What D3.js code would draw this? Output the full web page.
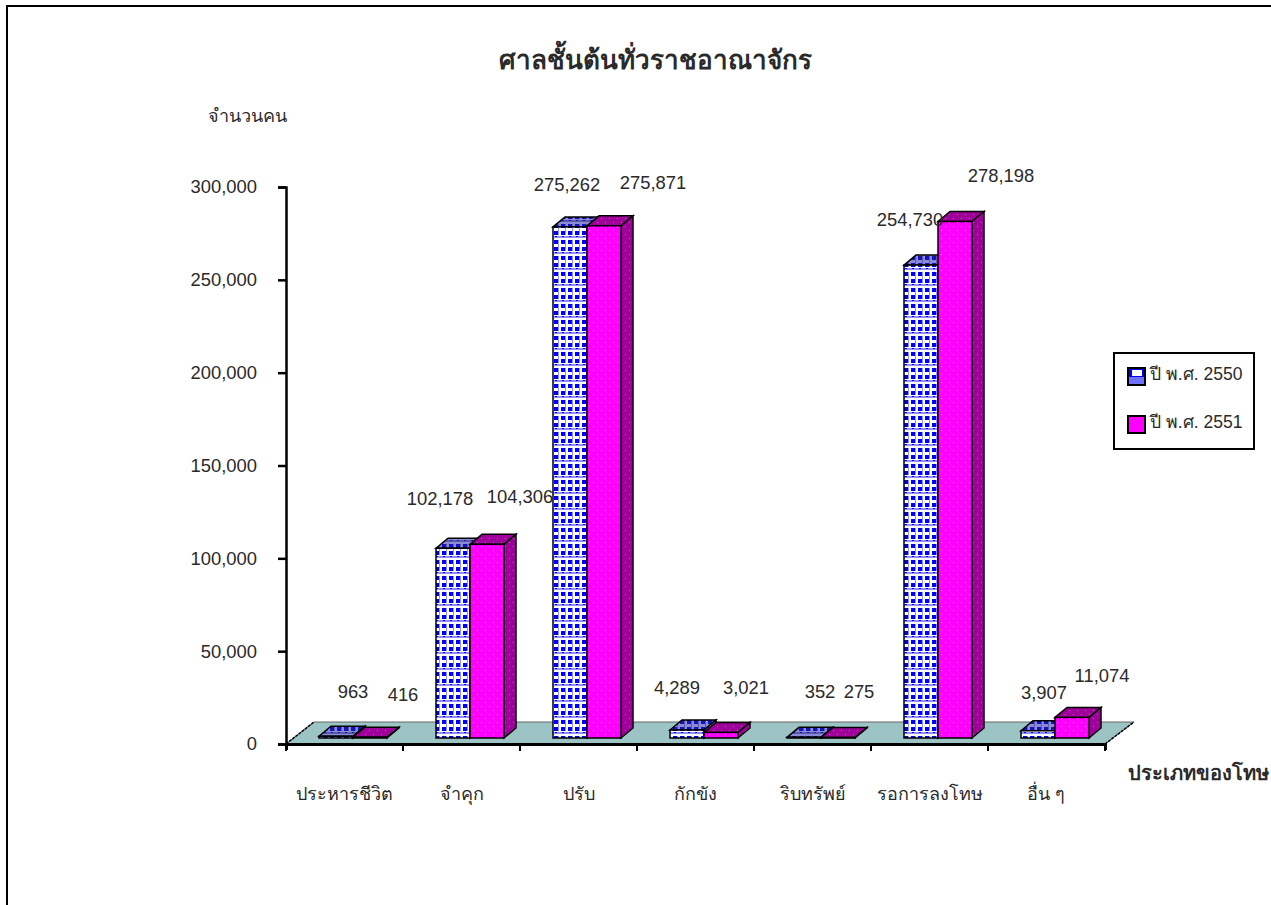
<!DOCTYPE html>
<html>
<head>
<meta charset="utf-8">
<script src="https://cdn.jsdelivr.net/npm/d3@7"></script>
<style>
html, body { margin: 0; padding: 0; background: #fff; overflow: hidden; }
text { font-family: "Liberation Sans", Arial, "Noto Sans", sans-serif; fill: #2a2a2a; }
</style>
</head>
<body>
<svg id="chart" width="1271" height="905"></svg>
<script>
var categories = ["ประหารชีวิต", "จำคุก", "ปรับ", "กักขัง", "ริบทรัพย์", "รอการลงโทษ", "อื่น ๆ"];
var seriesNames = ["ปี พ.ศ. 2550", "ปี พ.ศ. 2551"];
var values2550 = [963, 102178, 275262, 4289, 352, 254730, 3907];
var values2551 = [416, 104306, 275871, 3021, 275, 278198, 11074];
var yTicks = [0, 50000, 100000, 150000, 200000, 250000, 300000];

var svg = d3.select("#chart");
var defs = svg.append("defs");

/* checker fill of the first series, white dots on magenta for the second */
function checkPattern(id, bg, fg, band) {
  var p = defs.append("pattern").attr("id", id).attr("patternUnits", "userSpaceOnUse").attr("width", 7).attr("height", 16);
  p.append("rect").attr("width", 7).attr("height", 16).attr("fill", bg);
  [0, 7].forEach(function (py) {
    p.append("rect").attr("x", 1).attr("y", py).attr("width", 4).attr("height", 4).attr("fill", fg);
  });
  p.append("rect").attr("x", 0).attr("y", 12).attr("width", 7).attr("height", 2).attr("fill", band);
  p.append("rect").attr("x", 2).attr("y", 12).attr("width", 2).attr("height", 1).attr("fill", fg);
  p.append("rect").attr("x", 5).attr("y", 0).attr("width", 1).attr("height", 11).attr("fill", band);
}
function dotPattern(id, bg, dot) {
  var p = defs.append("pattern").attr("id", id).attr("patternUnits", "userSpaceOnUse").attr("width", 8).attr("height", 8);
  p.append("rect").attr("width", 8).attr("height", 8).attr("fill", bg);
  p.append("rect").attr("x", 1).attr("y", 2).attr("width", 1).attr("height", 1).attr("fill", dot);
  p.append("rect").attr("x", 5).attr("y", 6).attr("width", 1).attr("height", 1).attr("fill", dot);
}
checkPattern("blueFront", "#ffffff", "#0000ff", "#8f8fff");
checkPattern("blueDark", "#8a8ad8", "#1414b8", "#5a5aa8");
dotPattern("pinkFront", "#ff00ff", "#ffb0ff");
dotPattern("pinkDark", "#a0009a", "#c850c8");

/* legend key of the first series: solid cap, white middle, checked foot */
var swatch = defs.append("pattern").attr("id", "blueSwatch").attr("patternUnits", "objectBoundingBox").attr("width", 1).attr("height", 1);
swatch.append("rect").attr("width", 18).attr("height", 18).attr("fill", "#0000ff");
swatch.append("rect").attr("x", 4).attr("y", 2).attr("width", 10).attr("height", 6).attr("fill", "#ffffff");
swatch.append("rect").attr("x", 0).attr("y", 9).attr("width", 18).attr("height", 9).attr("fill", "#7070ff");

var axisLeft = 286, axisRight = 1105, axisY = 744;
var depthX = 12, depthY = 10;

var x = d3.scaleBand().domain(categories).range([axisLeft, axisRight]);
var y = d3.scaleLinear().domain([0, 300000]).range([axisY, 187]);
var barW = 34, barGap = 33;
var baseY = axisY - 6;
var lift = axisY - baseY;

/* floor */
var floorPts = [[axisLeft, axisY], [axisRight, axisY], [axisRight + 29, 722], [axisLeft + 28, 722]];
svg.append("path")
  .attr("d", d3.line()(floorPts) + "Z")
  .attr("fill", "#9cc4c4").attr("stroke", "#666").attr("stroke-width", 1);
svg.append("path").attr("d", d3.line()([floorPts[0], floorPts[3]])).attr("stroke", "#000").attr("stroke-width", 1.5).attr("stroke-dasharray", "3 1");
svg.append("path").attr("d", d3.line()([floorPts[1], floorPts[2]])).attr("stroke", "#000").attr("stroke-width", 1.5).attr("stroke-dasharray", "3 1");

function bar3d(g, x0, top, w, front, dark, side) {
  var left = x0, right = x0 + w;
  g.append("path")
    .attr("d", d3.line()([[left, top], [left + depthX, top - depthY], [right + depthX, top - depthY], [right, top]]) + "Z")
    .attr("fill", dark).attr("stroke", "#000").attr("stroke-width", 1.5);
  g.append("path")
    .attr("d", d3.line()([[right, top], [right + depthX, top - depthY], [right + depthX, baseY - depthY], [right, baseY]]) + "Z")
    .attr("fill", side).attr("stroke", "#000").attr("stroke-width", 1.5);
  g.append("rect")
    .attr("x", left).attr("y", top).attr("width", w).attr("height", Math.max(0, baseY - top))
    .attr("fill", front).attr("stroke", "#000").attr("stroke-width", 1.5);
}

/* bars: blue first, then magenta on top of it */
categories.forEach(function (c, i) {
  var x0 = x(c) + barGap;
  var g = svg.append("g");
  bar3d(g, x0, y(values2550[i]) - lift, barW, "url(#blueFront)", "url(#blueDark)", "url(#blueDark)");
  bar3d(g, x0 + barW, y(values2551[i]) - lift, barW, "url(#pinkFront)", "url(#pinkDark)", "url(#pinkDark)");
});

/* axes */
var yAxis = d3.axisLeft(y).tickValues(yTicks).tickSize(8).tickPadding(21).tickFormat(d3.format(","));
var yG = svg.append("g").attr("transform", "translate(" + axisLeft + ",0)").call(yAxis);
var xAxis = d3.axisBottom(x).tickValues([]).tickSizeOuter(6);
var xG = svg.append("g").attr("transform", "translate(0," + axisY + ")").call(xAxis);
xG.selectAll("line.cat").data(d3.range(categories.length + 1)).enter().append("line")
  .attr("class", "cat")
  .attr("x1", function (i) { return axisLeft + i * x.step(); })
  .attr("x2", function (i) { return axisLeft + i * x.step(); })
  .attr("y1", 0).attr("y2", 7).attr("stroke", "#000").attr("stroke-width", 2);
yG.selectAll("path, line").attr("stroke", "#000").attr("stroke-width", 2.5);
xG.selectAll("path").attr("stroke", "#000").attr("stroke-width", 3);
yG.selectAll("text").attr("font-size", 18.4).style("font-family", '"Liberation Sans"').attr("fill", "#2a2a2a");

/* category names */
svg.selectAll("text.cat").data(categories).enter().append("text")
  .attr("class", "cat")
  .attr("x", function (c) { return x(c) + x.bandwidth() / 2; })
  .attr("y", 800)
  .attr("text-anchor", "middle").attr("font-size", 18)
  .text(function (c) { return c; });

/* labels were dragged by hand in the source chart, so each has its own nudge */
var nudge2550 = [17, -13, -3, -10, 16, -11, 6];
var nudge2551 = [33, 33, 49, 25, 21, 46, 30];
var rise2550 = [38, 43, 36, 36, 39, 39, 32];
var rise2551 = [36, 41, 37, 38, 39, 39, 35];
var fmt = d3.format(",");
function labels(vals, nudge, rise, offset) {
  vals.forEach(function (v, i) {
    svg.append("text")
      .attr("x", x(categories[i]) + barGap + offset + barW / 2 + nudge[i])
      .attr("y", y(v) - lift - rise[i])
      .attr("text-anchor", "middle").attr("font-size", 18.4)
      .text(fmt(v));
  });
}
labels(values2550, nudge2550, rise2550, 0);
labels(values2551, nudge2551, rise2551, barW);

/* titles */
svg.append("text").attr("x", 655).attr("y", 69).attr("text-anchor", "middle")
  .attr("font-size", 26).attr("font-weight", "bold").attr("fill", "#000").text("ศาลชั้นต้นทั่วราชอาณาจักร");
svg.append("text").attr("x", 208).attr("y", 122).attr("font-size", 18).text("จำนวนคน");
svg.append("text").attr("x", 1128).attr("y", 780).attr("font-size", 20).attr("font-weight", "bold").attr("fill", "#000").text("ประเภทของโทษ");

/* legend */
var legend = svg.append("g");
legend.append("rect").attr("x", 1114).attr("y", 353).attr("width", 140).attr("height", 96)
  .attr("fill", "#fff").attr("stroke", "#000").attr("stroke-width", 2);
seriesNames.forEach(function (n, i) {
  var ly = 368 + i * 48;
  legend.append("rect").attr("x", 1128).attr("y", ly).attr("width", 17).attr("height", 17)
    .attr("fill", i ? "#ff00ff" : "url(#blueSwatch)").attr("stroke", "#000").attr("stroke-width", 2);
  legend.append("text").attr("x", 1150).attr("y", ly + 12).attr("font-size", 17.5).text(n);
});

/* outer frame */
svg.append("rect").attr("x", 7).attr("y", 6).attr("width", 1300).attr("height", 1000)
  .attr("fill", "none").attr("stroke", "#000").attr("stroke-width", 2);
</script>
</body>
</html>
